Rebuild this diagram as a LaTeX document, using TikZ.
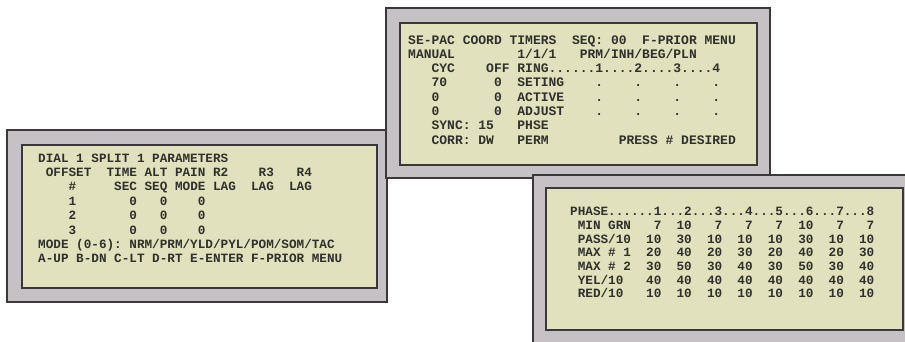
\documentclass[tikz,border=0pt]{standalone}
\usepackage{fontspec}
\setmonofont{Liberation Mono}
\usepackage{tikz}
\usetikzlibrary{positioning, calc}
\definecolor{frameGrey}{RGB}{198,193,196}
\definecolor{screenTint}{RGB}{225,226,189}
\definecolor{edgeDark}{RGB}{58,56,56}
\definecolor{inkDark}{RGB}{48,48,44}
\tikzset{
  bezel/.style  = {fill=frameGrey, draw=edgeDark, line width=1.2pt},
  screen/.style = {fill=screenTint, draw=edgeDark, line width=2pt},
  lcdrow/.style = {anchor=base west, inner sep=0pt, text=inkDark,
                   font=\ttfamily\bfseries\fontsize{12.67}{14}\selectfont}
}

\begin{document}
\begin{tikzpicture}[x=1pt, y=-1pt]
  \useasboundingbox (0,0) rectangle (905,341);
  \tikzset{
    lcdwide/.style={lcdrow, font=\ttfamily\bfseries\fontsize{13}{14}\selectfont}
  }

  \def\Lx{38}
  \def\Tx{408}
  \def\Bx{570}

  % dial / split parameters
  \filldraw[bezel]  (7,130) rectangle (387,302);
  \filldraw[screen] (22,145) rectangle (377,288);
  \node[lcdrow] (dialTitle) at (\Lx,162.0) {DIAL~1~SPLIT~1~PARAMETERS};
  \node[lcdrow] (dialHeadA) at (\Lx,176.4) {~OFFSET~~TIME~ALT~PAIN~R2~~~~R3~~~R4};
  \node[lcdrow] (dialHeadB) at (\Lx,190.8) {~~~~\#~~~~~SEC~SEQ~MODE~LAG~~LAG~~LAG};
  \node[lcdrow] (dialRowA)  at (\Lx,205.2) {~~~~1~~~~~~~0~~~0~~~~0};
  \node[lcdrow] (dialRowB)  at (\Lx,219.6) {~~~~2~~~~~~~0~~~0~~~~0};
  \node[lcdrow] (dialRowC)  at (\Lx,234.0) {~~~~3~~~~~~~0~~~0~~~~0};
  \node[lcdrow] (dialMode)  at (\Lx,248.4) {MODE~(0-6):~NRM/PRM/YLD/PYL/POM/SOM/TAC};
  \node[lcdrow] (dialKeys)  at (\Lx,262.8) {A-UP~B-DN~C-LT~D-RT~E-ENTER~F-PRIOR~MENU};

  % coordination timers
  \filldraw[bezel]  (386,8) rectangle (770,178);
  \filldraw[screen] (400,23) rectangle (757,165);
  \node[lcdwide] (coordTitle)  at (\Tx,44.0)  {SE-PAC~COORD~TIMERS~~SEQ:~00~~F-PRIOR~MENU};
  \node[lcdwide] (coordManual) at (\Tx,58.3)  {MANUAL~~~~~~~~1/1/1~~~PRM/INH/BEG/PLN};
  \node[lcdwide] (coordRing)   at (\Tx,72.6)  {~~~CYC~~~~OFF~RING......1....2....3....4};
  \node[lcdwide] (coordSet)    at (\Tx,86.9)  {~~~70~~~~~~0~~SETING~~~~.~~~~.~~~~.~~~~.};
  \node[lcdwide] (coordActive) at (\Tx,101.2) {~~~0~~~~~~~0~~ACTIVE~~~~.~~~~.~~~~.~~~~.};
  \node[lcdwide] (coordAdjust) at (\Tx,115.5) {~~~0~~~~~~~0~~ADJUST~~~~.~~~~.~~~~.~~~~.};
  \node[lcdwide] (coordSync)   at (\Tx,129.8) {~~~SYNC:~15~~~PHSE};
  \node[lcdwide] (coordCorr)   at (\Tx,144.1) {~~~CORR:~DW~~~PERM~~~~~~~~~PRESS~\#~DESIRED};

  % phase timings
  \filldraw[bezel]  (533,175) rectangle (912,348);
  \filldraw[screen] (546,188) rectangle (903,330);
  \node[lcdrow] (phaseHead) at (\Bx,215.7) {PHASE......1...2...3...4...5...6...7...8};
  \node[lcdrow] (phaseMin)  at (\Bx,229.4) {~MIN~GRN~~~7~~10~~~7~~~7~~~7~~10~~~7~~~7};
  \node[lcdrow] (phasePass) at (\Bx,243.1) {~PASS/10~~10~~30~~10~~10~~10~~30~~10~~10};
  \node[lcdrow] (phaseMaxA) at (\Bx,256.8) {~MAX~\#~1~~20~~40~~20~~30~~20~~40~~20~~30};
  \node[lcdrow] (phaseMaxB) at (\Bx,270.5) {~MAX~\#~2~~30~~50~~30~~40~~30~~50~~30~~40};
  \node[lcdrow] (phaseYel)  at (\Bx,284.2) {~YEL/10~~~40~~40~~40~~40~~40~~40~~40~~40};
  \node[lcdrow] (phaseRed)  at (\Bx,297.9) {~RED/10~~~10~~10~~10~~10~~10~~10~~10~~10};
\end{tikzpicture}
\end{document}
